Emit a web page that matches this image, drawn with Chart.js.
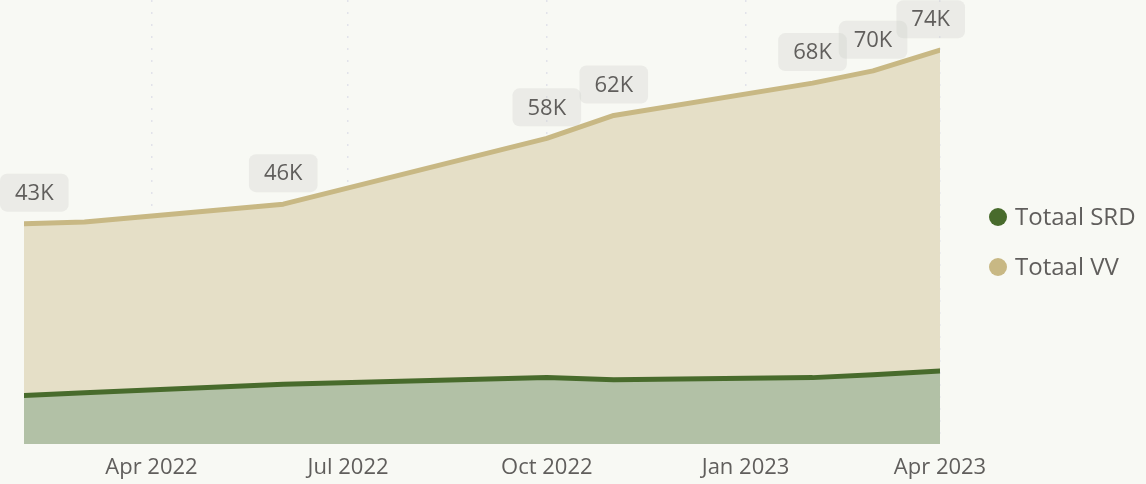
<!DOCTYPE html>
<html>
<head>
<meta charset="utf-8">
<script src="https://cdn.jsdelivr.net/npm/chart.js@4"></script>
<style>
  html, body { margin: 0; padding: 0; background: #f8f9f4; }
  #wrap { width: 1146px; height: 484px; }
</style>
</head>
<body>
<div id="wrap"><canvas id="areaChart" width="1146" height="484"></canvas></div>
<script>
// data
const dates = ['2022-02-01', '2022-03-01', '2022-06-01', '2022-10-01', '2022-11-01', '2023-02-01', '2023-03-01', '2023-04-01'];
const totaalSRD = [12100, 12600, 14100, 15300, 14900, 15300, 15800, 16500];
const totaalVV = [42900, 43200, 46400, 58200, 62300, 68100, 70300, 74000];
const vvLabelShown = [true, false, true, true, true, true, true, true];
const tickDates = ['2022-04-01', '2022-07-01', '2022-10-01', '2023-01-01', '2023-04-01'];
const tickLabels = ['Apr 2022', 'Jul 2022', 'Oct 2022', 'Jan 2023', 'Apr 2023'];

const FONT = "'Open Sans', 'Noto Sans', sans-serif";
const TEXT = '#605e5c';

const ts = d => Date.parse(d + 'T00:00:00Z');
const toPoints = vals => vals.map((v, i) => ({ x: ts(dates[i]), y: v }));

// rounded value boxes above the VV points
const valueLabels = {
    id: 'valueLabels',
    afterDatasetsDraw(chart) {
        const ctx = chart.ctx;
        const meta = chart.getDatasetMeta(1);
        const area = chart.chartArea;
        ctx.save();
        ctx.font = '22px ' + FONT;
        ctx.textAlign = 'center';
        ctx.textBaseline = 'middle';
        meta.data.forEach((pt, i) => {
            if (!vvLabelShown[i]) return;
            const txt = Math.round(totaalVV[i] / 1000) + 'K';
            const w = ctx.measureText(txt).width + 30;
            const h = 38;
            let left = pt.x - w / 2;
            left = Math.max(0, Math.min(left, area.right + 25 - w));
            const top = pt.y - 12 - h;
            ctx.fillStyle = 'rgba(200, 200, 198, 0.28)';
            ctx.beginPath();
            ctx.roundRect(left, top, w, h, 7);
            ctx.fill();
            ctx.fillStyle = TEXT;
            ctx.fillText(txt, left + w / 2, top + h / 2 + 1);
        });
        ctx.restore();
    }
};

// legend on the right
const sideLegend = {
    id: 'sideLegend',
    afterDraw(chart) {
        const ctx = chart.ctx;
        ctx.save();
        ctx.font = '24px ' + FONT;
        ctx.textBaseline = 'middle';
        chart.data.datasets.forEach((ds, i) => {
            const y = 217 + i * 50;
            ctx.fillStyle = ds.borderColor;
            ctx.beginPath();
            ctx.arc(998, y, 9, 0, Math.PI * 2);
            ctx.fill();
            ctx.fillStyle = TEXT;
            ctx.fillText(ds.label, 1015, y + 1);
        });
        ctx.restore();
    }
};

new Chart(document.getElementById('areaChart'), {
    type: 'line',
    data: {
        datasets: [
            {
                label: 'Totaal SRD',
                data: toPoints(totaalSRD),
                borderColor: '#486b2c',
                backgroundColor: '#b2c1a6',
                borderWidth: 5,
                fill: 'origin',
                tension: 0,
                pointRadius: 0,
                borderCapStyle: 'round',
                borderJoinStyle: 'round'
            },
            {
                label: 'Totaal VV',
                data: toPoints(totaalVV),
                borderColor: '#c8b884',
                backgroundColor: '#e5dfc7',
                borderWidth: 5,
                fill: 'origin',
                tension: 0,
                pointRadius: 0,
                borderCapStyle: 'round',
                borderJoinStyle: 'round'
            }
        ]
    },
    options: {
        responsive: false,
        animation: false,
        layout: { padding: { left: 24, right: 206, top: 0, bottom: 0 } },
        plugins: { legend: { display: false }, tooltip: { enabled: false } },
        scales: {
            x: {
                type: 'linear',
                min: ts(dates[0]),
                max: ts(dates[dates.length - 1]),
                z: 1,
                afterBuildTicks: scale => { scale.ticks = tickDates.map(d => ({ value: ts(d) })); },
                afterFit: scale => { scale.height = 40; },
                ticks: {
                    autoSkip: false,
                    maxRotation: 0,
                    padding: 11,
                    color: TEXT,
                    font: { family: FONT, size: 22 },
                    callback: (v, i) => tickLabels[i]
                },
                grid: { color: 'rgba(200, 200, 222, 0.45)', lineWidth: 1.5, drawTicks: false },
                border: { display: false, dash: [2, 10] }
            },
            y: {
                min: 3400,
                max: 83000,
                display: false
            }
        }
    },
    plugins: [valueLabels, sideLegend]
});
</script>
</body>
</html>
